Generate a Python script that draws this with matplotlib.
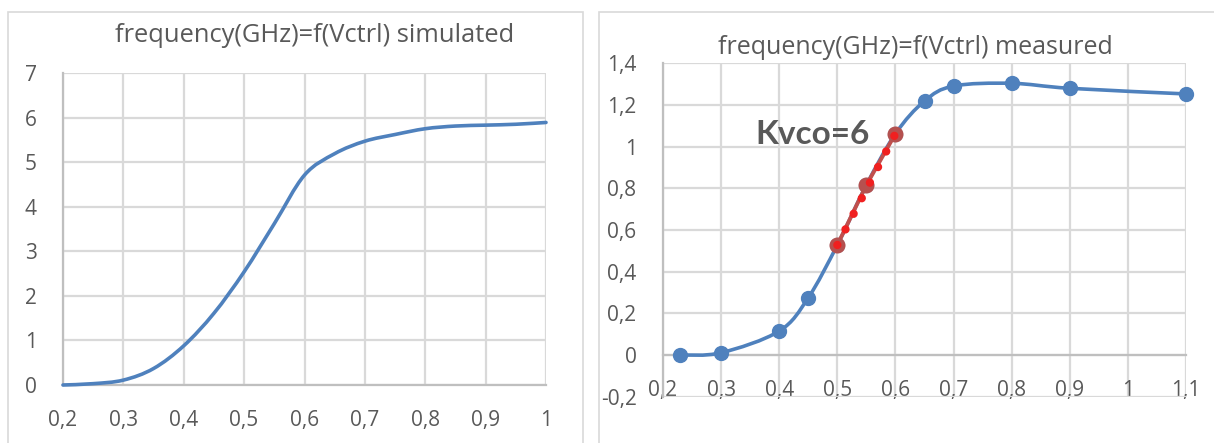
import numpy as np
import matplotlib.pyplot as plt
from matplotlib.path import Path
from matplotlib.patches import PathPatch, Rectangle

plt.rcParams['font.family'] = ['Open Sans', 'DejaVu Sans']

# simulated curve, frequency (GHz) vs Vctrl (V)
sim_v = [0.2, 0.25, 0.3, 0.35, 0.4, 0.45, 0.5, 0.55, 0.6, 0.65, 0.7, 0.75, 0.8, 0.85, 0.9, 0.95, 1.0]
sim_f = [0.0, 0.03, 0.11, 0.37, 0.88, 1.61, 2.54, 3.62, 4.71, 5.19, 5.47, 5.62, 5.75, 5.81, 5.83, 5.85, 5.89]

# measured points
meas_v = [0.23, 0.3, 0.4, 0.45, 0.5, 0.55, 0.6, 0.65, 0.7, 0.8, 0.9, 1.1]
meas_f = [0.0, 0.011, 0.115, 0.275, 0.528, 0.816, 1.062, 1.219, 1.291, 1.304, 1.28, 1.253]

# linear region used for Kvco
kv_v = [0.5, 0.55, 0.6]
kv_f = [0.528, 0.816, 1.062]
kvco_label = 'Kvco=6'

sim_xticks = [0.2, 0.3, 0.4, 0.5, 0.6, 0.7, 0.8, 0.9, 1.0]
sim_yticks = [0, 1, 2, 3, 4, 5, 6, 7]
meas_xticks = [0.2, 0.3, 0.4, 0.5, 0.6, 0.7, 0.8, 0.9, 1.0, 1.1]
meas_yticks = [-0.2, 0, 0.2, 0.4, 0.6, 0.8, 1.0, 1.2, 1.4]

BLUE = '#4F81BD'
GRID = '#D9D9D9'
AXIS = '#BFBFBF'
TEXT = '#595959'


def comma(v):
    s = ('%g' % round(v, 2))
    return s.replace('.', ',')


def smooth_path(x, y):
    # excel style smoothed line: cubic bezier through the points
    pts = np.column_stack([x, y]).astype(float)
    n = len(pts)
    verts = [pts[0]]
    codes = [Path.MOVETO]
    for i in range(n - 1):
        p0 = pts[i - 1] if i > 0 else pts[i]
        p1 = pts[i]
        p2 = pts[i + 1]
        p3 = pts[i + 2] if i + 2 < n else pts[i + 1]
        c1 = p1 + (p2 - p0) / 6.0
        c2 = p2 - (p3 - p1) / 6.0
        verts += [c1, c2, p2]
        codes += [Path.CURVE4] * 3
    return Path(verts, codes)


def style_axes(ax, xticks, yticks):
    ax.set_xticks(xticks)
    ax.set_yticks(yticks)
    ax.set_xticklabels([comma(v) for v in xticks])
    ax.set_yticklabels([comma(v) for v in yticks])
    ax.grid(True, color=GRID, linewidth=1.6)
    ax.set_axisbelow(True)
    for s in ['top', 'right']:
        ax.spines[s].set_visible(False)
    for s in ['left', 'bottom']:
        ax.spines[s].set_color(AXIS)
        ax.spines[s].set_linewidth(1.6)
    ax.tick_params(length=0, labelsize=15, labelcolor=TEXT)
    ax.tick_params(axis='x', pad=18)
    ax.tick_params(axis='y', pad=19)


fig = plt.figure(figsize=(12.14, 4.43), dpi=100)

# chart frames
fig.patches.append(Rectangle((8 / 1214, -0.1), 575 / 1214, 1.1 - 12 / 443, transform=fig.transFigure,
                             fill=False, edgecolor=GRID, linewidth=1.2))
fig.patches.append(Rectangle((599 / 1214, -0.1), 0.6, 1.1 - 12 / 443, transform=fig.transFigure,
                             fill=False, edgecolor=GRID, linewidth=1.2))

# left: simulated
ax1 = fig.add_axes([63 / 1214, 58 / 443, 483 / 1214, 312 / 443])
ax1.set_xlim(0.2, 1.0)
ax1.set_ylim(0, 7)
style_axes(ax1, sim_xticks, sim_yticks)
ax1.add_patch(PathPatch(smooth_path(sim_v, sim_f), fill=False, edgecolor=BLUE, linewidth=2.6,
                        capstyle='round', clip_on=False, zorder=3))
fig.text(315 / 1214, 1 - 35 / 443, 'frequency(GHz)=f(Vctrl) simulated', ha='center', va='center',
         fontsize=18.4, color=TEXT)

# right: measured
ax2 = fig.add_axes([663 / 1214, 46.3 / 443, 523 / 1214, 333.4 / 443])
ax2.set_xlim(0.2, 1.1)
ax2.set_ylim(-0.2, 1.4)
style_axes(ax2, meas_xticks, meas_yticks)
ax2.spines['bottom'].set_position(('data', 0))
ax2.add_patch(PathPatch(smooth_path(meas_v, meas_f), fill=False, edgecolor=BLUE, linewidth=2.6,
                        clip_on=False, zorder=3))
ax2.plot(meas_v, meas_f, linestyle='none', marker='o', markersize=10, color=BLUE, clip_on=False, zorder=4)
ax2.plot(kv_v, kv_f, color='#C0504D', linewidth=2.8, marker='o', markersize=10.5,
         markerfacecolor='#B5514F', markeredgecolor='#B5514F', zorder=5)
ax2.plot([kv_v[0], kv_v[-1]], [kv_f[0], kv_f[-1]], color='#F02020', linewidth=6,
         linestyle=(0, (0.01, 2.1)), dash_capstyle='round', zorder=6)
ax2.text(0.458, 1.056, kvco_label, ha='center', va='center', fontsize=24, fontweight='bold',
         color=TEXT, family=['Lato', 'DejaVu Sans'])
fig.text(915 / 1214, 1 - 47 / 443, 'frequency(GHz)=f(Vctrl) measured', ha='center', va='center',
         fontsize=18, color=TEXT)

fig.savefig('out.png', dpi=100)
